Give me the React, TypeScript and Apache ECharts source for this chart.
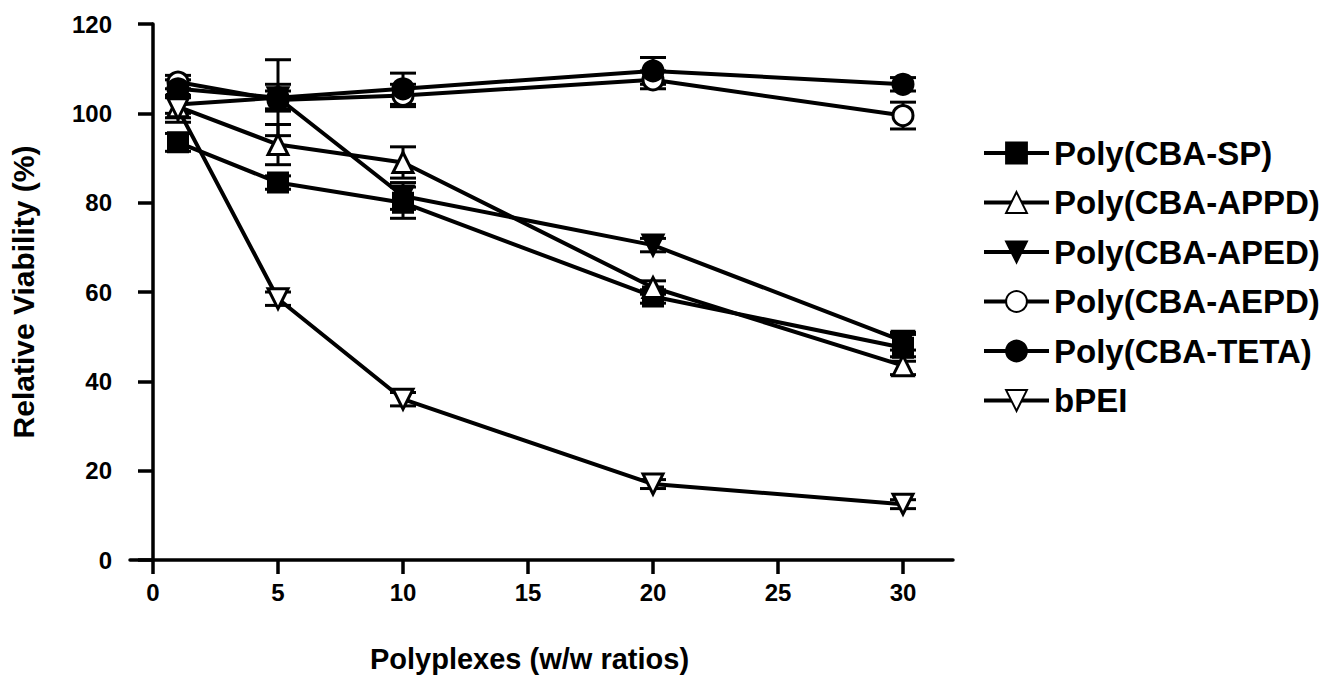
import React, { useEffect, useRef } from "react";
import * as echarts from "echarts";

const xValues = [1, 5, 10, 20, 30];
const xTickValues = [0, 5, 10, 15, 20, 25, 30];

const seriesNames = [
  "Poly(CBA-SP)",
  "Poly(CBA-APPD)",
  "Poly(CBA-APED)",
  "Poly(CBA-AEPD)",
  "Poly(CBA-TETA)",
  "bPEI",
];

const spValues = [93.5, 84.5, 80, 59, 47.5];
const appdValues = [101.5, 93, 89, 61, 43.5];
const apedValues = [102, 103.5, 81.5, 70.5, 49];
const aepdValues = [107, 103, 104, 107.5, 99.5];
const tetaValues = [105.5, 103.5, 105.5, 109.5, 106.5];
const bpeiValues = [101, 58.5, 36, 17, 12.5];

const spErrors = [2, 1.5, 3.5, 1.5, 3];
const appdErrors = [2.5, 4.5, 3.5, 1.5, 2];
const apedErrors = [2, 8.5, 3, 1.5, 2];
const aepdErrors = [1.5, 2, 2.5, 2, 3];
const tetaErrors = [2, 3, 3.5, 3, 1.5];
const bpeiErrors = [3, 1.5, 1.5, 1, 1];

const allValues = [spValues, appdValues, apedValues, aepdValues, tetaValues, bpeiValues];
const allErrors = [spErrors, appdErrors, apedErrors, aepdErrors, tetaErrors, bpeiErrors];

const markerStyles = [
  { symbol: "rect", rotate: 0, filled: true },
  { symbol: "triangle", rotate: 0, filled: false },
  { symbol: "triangle", rotate: 180, filled: true },
  { symbol: "circle", rotate: 0, filled: false },
  { symbol: "circle", rotate: 0, filled: true },
  { symbol: "triangle", rotate: 180, filled: false },
];

const FONT = "'Liberation Sans', Arial, Helvetica, sans-serif";

export default function App() {
  const ref = useRef<HTMLDivElement>(null);

  useEffect(() => {
    if (!ref.current) return;
    const chart = echarts.init(ref.current, undefined, { renderer: "svg" });

    const lineSeries = seriesNames.map((name, i) => ({
      name,
      type: "line",
      data: xValues.map((x, j) => [x, allValues[i][j]]),
      symbol: markerStyles[i].symbol,
      symbolRotate: markerStyles[i].rotate,
      symbolSize: markerStyles[i].symbol === "rect" ? 19 : 20,
      showSymbol: true,
      lineStyle: { color: "#000", width: 4 },
      itemStyle: {
        color: markerStyles[i].filled ? "#000" : "#fff",
        borderColor: "#000",
        borderWidth: 3,
      },
      z: 3,
    }));

    const errorSeries = seriesNames.map((name, i) => ({
      name: "err-" + name,
      type: "custom",
      data: xValues.map((x, j) => [
        x,
        allValues[i][j] - allErrors[i][j],
        allValues[i][j] + allErrors[i][j],
      ]),
      encode: { x: 0, y: [1, 2] },
      z: 2,
      renderItem: (params: any, api: any) => {
        const x = api.value(0);
        const lo = api.coord([x, api.value(1)]);
        const hi = api.coord([x, api.value(2)]);
        const half = 13;
        const style = { stroke: "#000", lineWidth: 3 };
        return {
          type: "group",
          children: [
            { type: "line", shape: { x1: lo[0], y1: lo[1], x2: hi[0], y2: hi[1] }, style },
            { type: "line", shape: { x1: hi[0] - half, y1: hi[1], x2: hi[0] + half, y2: hi[1] }, style },
            { type: "line", shape: { x1: lo[0] - half, y1: lo[1], x2: lo[0] + half, y2: lo[1] }, style },
          ],
        };
      },
    }));

    chart.setOption({
      animation: false,
      backgroundColor: "#fff",
      textStyle: { fontFamily: FONT },
      grid: { left: 130, right: 368, top: 24, bottom: 119, containLabel: false },
      legend: {
        data: seriesNames,
        orient: "vertical",
        left: 977,
        top: 131,
        itemWidth: 65,
        itemHeight: 26,
        itemGap: 15.5,
        lineStyle: { color: "#000", width: 4 },
        textStyle: {
          color: "#000",
          fontSize: 33,
          fontWeight: "bold",
          fontFamily: FONT,
          lineHeight: 34,
        },
      },
      xAxis: {
        type: "value",
        min: -0.92,
        max: 32,
        name: "Polyplexes (w/w ratios)",
        nameLocation: "middle",
        nameGap: 84,
        nameTextStyle: {
          color: "#000",
          fontSize: 29,
          fontWeight: "bold",
          fontFamily: FONT,
          padding: [0, 24, 0, 0],
        },
        axisLine: { show: true, onZero: false, lineStyle: { color: "#000", width: 3.5 } },
        axisTick: {
          show: true,
          customValues: xTickValues,
          length: 14,
          lineStyle: { color: "#000", width: 3.5 },
        },
        axisLabel: {
          customValues: xTickValues,
          margin: 20,
          color: "#000",
          fontSize: 24,
          fontWeight: "bold",
          fontFamily: FONT,
        },
        splitLine: { show: false },
      },
      yAxis: {
        type: "value",
        min: 0,
        max: 120,
        interval: 20,
        name: "Relative Viability (%)",
        nameLocation: "middle",
        nameGap: 92,
        nameTextStyle: {
          color: "#000",
          fontSize: 30,
          fontWeight: "bold",
          fontFamily: FONT,
        },
        axisLine: { show: true, lineStyle: { color: "#000", width: 3.5 } },
        axisTick: { show: true, length: 15, lineStyle: { color: "#000", width: 3.5 } },
        axisLabel: {
          margin: 18,
          color: "#000",
          fontSize: 24,
          fontWeight: "bold",
          fontFamily: FONT,
        },
        splitLine: { show: false },
      },
      series: [...errorSeries, ...lineSeries],
    });

    return () => chart.dispose();
  }, []);

  return (
    <div
      ref={ref}
      style={{ position: "absolute", left: 0, top: 0, width: 1321, height: 679 }}
    />
  );
}
